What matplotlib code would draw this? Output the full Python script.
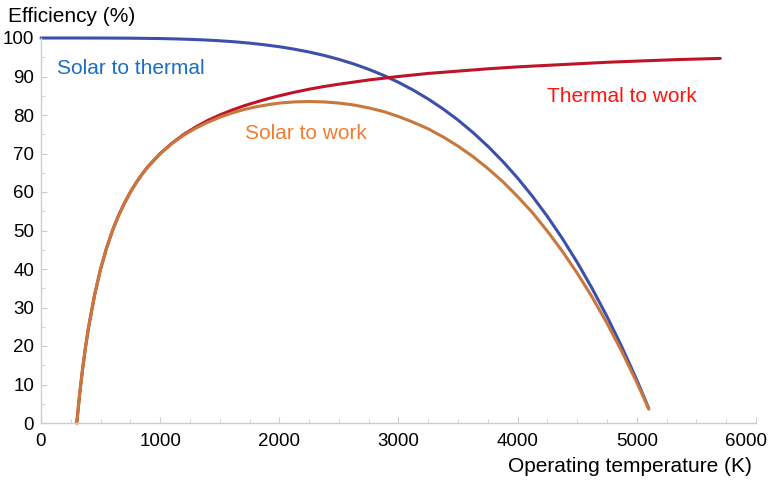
import numpy as np
import matplotlib
matplotlib.use('Agg')
import matplotlib.pyplot as plt
from matplotlib.ticker import MultipleLocator

plt.rcParams['font.family'] = ['Liberation Sans', 'DejaVu Sans']

# solar to thermal (blue)
T_st = [0, 250, 500, 750, 1000, 1125, 1250, 1375, 1500, 1625, 1750, 1875, 2000, 2125, 2250,
        2375, 2500, 2625, 2750, 2875, 3000, 3125, 3250, 3375, 3500, 3625, 3750, 3875, 4000,
        4125, 4250, 4375, 4500, 4625, 4750, 4875, 5000, 5050, 5100]
eta_st = [100.0, 100.0, 99.99, 99.95, 99.86, 99.77, 99.65, 99.49, 99.28, 99.01, 98.67, 98.24, 97.73, 97.10, 96.36,
          95.48, 94.45, 93.25, 91.87, 90.29, 88.49, 86.44, 84.14, 81.56, 78.67, 75.45, 71.88, 67.95, 63.61,
          58.84, 53.62, 47.92, 41.71, 34.95, 27.63, 19.71, 11.15, 7.5, 3.8]

# thermal to work (red)
T_tw = [300, 325, 350, 375, 400, 450, 500, 550, 600, 650, 700, 750, 800, 850, 900, 1000, 1100, 1200,
        1300, 1400, 1500, 1600, 1700, 1800, 1900, 2000, 2125, 2250, 2375, 2500, 2750, 3000, 3250,
        3500, 3750, 4000, 4250, 4500, 4750, 5000, 5350, 5700]
eta_tw = [0.0, 7.7, 14.3, 20.0, 25.0, 33.3, 40.0, 45.45, 50.0, 53.85, 57.1, 60.0, 62.5, 64.7, 66.7, 70.0, 72.7, 75.0,
          76.9, 78.6, 80.0, 81.25, 82.35, 83.3, 84.2, 85.0, 85.9, 86.7, 87.4, 88.0, 89.1, 90.0, 90.8,
          91.4, 92.0, 92.5, 92.9, 93.3, 93.7, 94.0, 94.4, 94.7]

# solar to work (orange)
T_sw = [300, 325, 350, 375, 400, 450, 500, 550, 600, 650, 700, 750, 800, 850, 900, 1000, 1100, 1200,
        1300, 1400, 1500, 1600, 1700, 1800, 1900, 2000, 2125, 2250, 2375, 2500, 2625, 2750, 2875,
        3000, 3125, 3250, 3375, 3500, 3625, 3750, 3875, 4000, 4125, 4250, 4375, 4500, 4625, 4750,
        4875, 5000, 5050, 5100]
eta_sw = [0.0, 7.7, 14.3, 20.0, 25.0, 33.3, 40.0, 45.45, 50.0, 53.8, 57.1, 60.0, 62.5, 64.7, 66.6, 69.9, 72.6, 74.8,
          76.6, 78.1, 79.4, 80.5, 81.4, 82.1, 82.65, 83.1, 83.4, 83.5, 83.4, 83.1, 82.6, 81.85, 80.9,
          79.6, 78.1, 76.4, 74.3, 71.9, 69.2, 66.1, 62.7, 58.8, 54.6, 49.8, 44.6, 38.9, 32.7, 25.9,
          18.5, 10.5, 7.1, 3.6]

fig = plt.figure(figsize=(7.7, 4.83), dpi=100)
ax = fig.add_axes([41 / 770, 1 - 423 / 483, (756 - 41) / 770, (423 - 38) / 483])

ax.plot(T_st, eta_st, color='#3c50aa', lw=2.2, solid_capstyle='round', clip_on=False)
ax.plot(T_tw, eta_tw, color='#be1428', lw=2.2, solid_capstyle='round', clip_on=False)
ax.plot(T_sw, eta_sw, color='#c8783c', lw=2.2, solid_capstyle='round', clip_on=False)

ax.set_xlim(0, 6000)
ax.set_ylim(0, 100)
for s in ['top', 'right']:
    ax.spines[s].set_visible(False)
for s in ['left', 'bottom']:
    ax.spines[s].set_color('#cccccc')
    ax.spines[s].set_linewidth(1.0)

xt = [0, 1000, 2000, 3000, 4000, 5000, 6000]
ax.set_xticks(xt, [str(v) for v in xt[:-1]] + [''])
ax.xaxis.set_minor_locator(MultipleLocator(250))
ax.yaxis.set_major_locator(MultipleLocator(10))
ax.yaxis.set_minor_locator(MultipleLocator(5))
ax.tick_params(which='both', direction='in', color='#cccccc', labelsize=13.5)
ax.tick_params(which='major', length=4.5, width=0.8)
ax.tick_params(which='minor', length=3, width=0.6)
ax.tick_params(axis='x', which='major', pad=7)
ax.tick_params(axis='y', which='major', pad=5)
# last tick label pulled in so it stays on the canvas
ax.annotate('6000', xy=(6000, 0), xytext=(-7.2, -7), textcoords='offset points',
            ha='center', va='top', fontsize=13.5, annotation_clip=False)

ax.text(134, 92.2, 'Solar to thermal', color='#1a6ec6', fontsize=15, va='center')
ax.text(4244, 84.9, 'Thermal to work', color='#ff1414', fontsize=15, va='center')
ax.text(1714, 75.3, 'Solar to work', color='#f07d32', fontsize=15, va='center')

fig.text(8 / 770, 1 - 17 / 483, 'Efficiency (%)', fontsize=15, va='center', ha='left')
fig.text(752 / 770, 1 - 466 / 483, 'Operating temperature (K)', fontsize=15, va='center', ha='right')

fig.savefig('out.png', dpi=100)
